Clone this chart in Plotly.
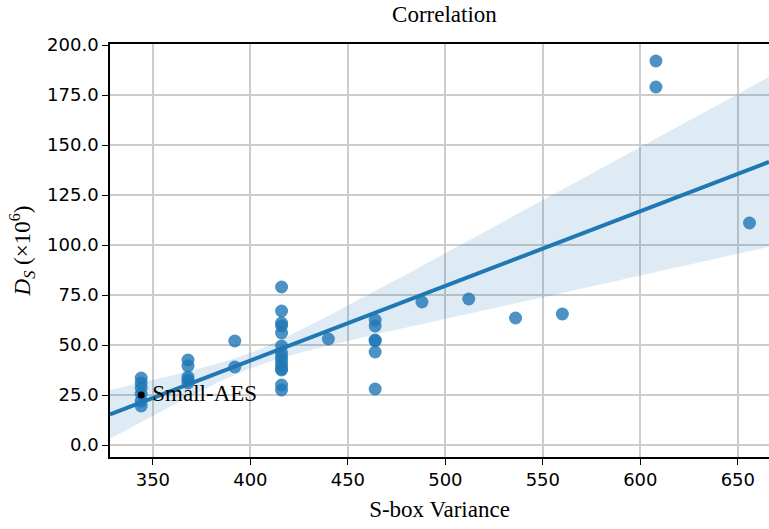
import numpy as np
import plotly.graph_objects as go

# S-box variance vs. differential score D_S (x10^6)
variance = [344, 344, 344, 344, 344, 344,
            368, 368, 368, 368, 368,
            392, 392,
            416, 416, 416, 416, 416, 416, 416, 416, 416, 416, 416, 416, 416, 416,
            440,
            464, 464, 464, 464, 464, 464,
            488, 512, 536, 560,
            608, 608,
            656]
ds = [33.5, 31, 28.5, 25.5, 22, 19.5,
      42.5, 39.5, 34, 32.5, 31,
      52, 39,
      79, 67, 61, 59.5, 56, 49.5, 46, 44, 42, 40, 38, 37.5, 30, 27.5,
      53,
      62.5, 59.5, 52.5, 52, 46.5, 28,
      71.5, 73, 63.5, 65.5,
      192, 179,
      111]

highlight_x = [344]
highlight_y = [25]
highlight_label = ["Small-AES"]

x_range = [328, 666]
y_range = [-6, 200.5]

BLUE = "#1f77b4"
SERIF = "Liberation Serif, DejaVu Serif, serif"

# Least-squares fit with a robust (HC0 sandwich) 95% confidence band
x = np.array(variance, dtype=float)
y = np.array(ds, dtype=float)
X = np.column_stack([np.ones_like(x), x])
XtX_inv = np.linalg.inv(X.T @ X)
beta = XtX_inv @ X.T @ y
resid = y - X @ beta
w = resid ** 2
cov = XtX_inv @ (X.T * w) @ X @ XtX_inv
xg = np.linspace(x_range[0], x_range[1], 200)
G = np.column_stack([np.ones_like(xg), xg])
yg = G @ beta
half = 1.96 * np.sqrt(np.einsum("ij,jk,ik->i", G, cov, G))

fig = go.Figure()
fig.add_trace(go.Scatter(
    x=np.concatenate([xg, xg[::-1]]),
    y=np.concatenate([yg + half, (yg - half)[::-1]]),
    fill="toself", fillcolor="rgba(31,119,180,0.15)",
    line=dict(width=0), hoverinfo="skip", showlegend=False))
fig.add_trace(go.Scatter(
    x=x, y=y, mode="markers",
    marker=dict(color=BLUE, size=13, opacity=0.8, line=dict(width=0)),
    showlegend=False))
fig.add_trace(go.Scatter(
    x=xg, y=yg, mode="lines",
    line=dict(color=BLUE, width=4), showlegend=False))
fig.add_trace(go.Scatter(
    x=highlight_x, y=highlight_y, mode="markers+text",
    marker=dict(color="black", size=7),
    text=[" " + t for t in highlight_label], textposition="middle right",
    textfont=dict(family=SERIF, size=23, color="black"),
    showlegend=False))

axis_font = dict(family="DejaVu Sans", size=18, color="black")
fig.update_layout(
    width=769, height=529,
    margin=dict(l=110, r=0, t=44, b=72),
    plot_bgcolor="white", paper_bgcolor="white",
    title=dict(text="Correlation", x=0.578, xanchor="center", y=0.973, yanchor="middle",
               font=dict(family=SERIF, size=23, color="black")),
    xaxis=dict(range=x_range, dtick=50, tick0=0, tickfont=axis_font,
               showgrid=True, gridcolor="#cccccc", gridwidth=1.5, zeroline=False,
               showline=True, linecolor="black", linewidth=1.5, mirror=True,
               ticks="outside", ticklen=6, tickcolor="black",
               title=dict(text="S-box Variance", standoff=12,
                          font=dict(family=SERIF, size=23, color="black"))),
    yaxis=dict(range=y_range, dtick=25, tick0=0, tickformat=".1f", tickfont=axis_font,
               showgrid=True, gridcolor="#cccccc", gridwidth=1.5, zeroline=False,
               showline=True, linecolor="black", linewidth=1.5,
               ticks="outside", ticklen=6, tickcolor="black",
               title=dict(text="<i>D</i><sub><i>S</i></sub> (×10<sup>6</sup>)", standoff=10,
                          font=dict(family=SERIF, size=23, color="black"))),
)

fig.write_html("out.html")
